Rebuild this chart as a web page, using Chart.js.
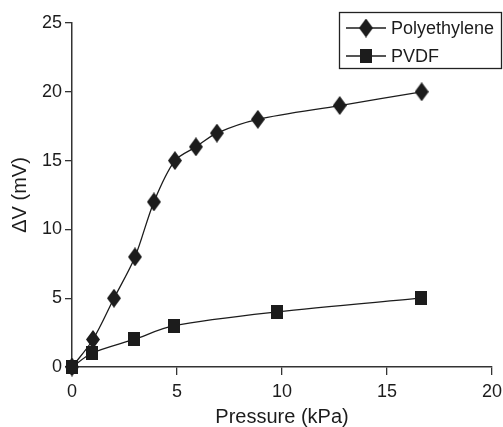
<!DOCTYPE html>
<html>
<head>
<meta charset="utf-8">
<script src="https://cdn.jsdelivr.net/npm/chart.js@4.4.1/dist/chart.umd.min.js"></script>
<style>
  html, body { margin: 0; padding: 0; background: #fff; }
  #wrap { width: 503px; height: 427px; position: relative; }
</style>
</head>
<body>
<div id="wrap"><canvas id="c" width="503" height="427"></canvas></div>
<script>
// ---- data ----
const peX = [0, 1, 2, 3, 3.9, 4.9, 5.9, 6.9, 8.85, 12.75, 16.65];
const peY = [0, 2, 5, 8, 12, 15, 16, 17, 18, 19, 20];
const pvX = [0, 0.95, 2.95, 4.85, 9.75, 16.6];
const pvY = [0, 1, 2, 3, 4, 5];
const xTicks = [0, 5, 10, 15, 20];
const yTicks = [0, 5, 10, 15, 20, 25];
const seriesNames = ['Polyethylene', 'PVDF'];

const INK = '#1c1c1c';

function makeDiamond(w, h) {
  const c = document.createElement('canvas');
  c.width = w; c.height = h;
  const g = c.getContext('2d');
  g.fillStyle = INK;
  g.beginPath();
  g.moveTo(w / 2, 0); g.lineTo(w, h / 2); g.lineTo(w / 2, h); g.lineTo(0, h / 2);
  g.closePath(); g.fill();
  return c;
}
function makeRect(w, h) {
  const c = document.createElement('canvas');
  c.width = w; c.height = h;
  const g = c.getContext('2d');
  g.fillStyle = INK;
  g.fillRect(0, 0, w, h);
  return c;
}
const diamond = makeDiamond(14, 19);
const square = makeRect(12, 14);
const styles = [diamond, square];

const toPts = (xs, ys) => xs.map((x, i) => ({ x: x, y: ys[i] }));

const legendPlugin = {
  id: 'boxLegend',
  afterDraw(chart) {
    const ctx = chart.ctx;
    ctx.save();
    ctx.strokeStyle = '#222';
    ctx.lineWidth = 1.3;
    ctx.strokeRect(339.5, 12.5, 162, 56);
    const rows = [28, 56];
    ctx.font = '18px "Liberation Sans", Arial, sans-serif';
    ctx.textBaseline = 'middle';
    ctx.fillStyle = INK;
    rows.forEach((y, i) => {
      ctx.beginPath();
      ctx.strokeStyle = INK;
      ctx.lineWidth = 1.3;
      ctx.moveTo(346, y); ctx.lineTo(386, y);
      ctx.stroke();
      const s = styles[i];
      ctx.drawImage(s, 366 - s.width / 2, y - s.height / 2);
      ctx.fillText(seriesNames[i], 391, y + 1);
    });
    ctx.restore();
  }
};

const tickFont = { family: '"Liberation Sans", Arial, sans-serif', size: 18 };
const xTitleFont = { family: '"Liberation Sans", Arial, sans-serif', size: 20, lineHeight: 1.0 };
const yTitleFont = { family: '"Liberation Sans", Arial, sans-serif', size: 20 };

new Chart(document.getElementById('c'), {
  type: 'scatter',
  data: {
    datasets: [
      {
        label: seriesNames[0],
        data: toPts(peX, peY),
        showLine: true,
        borderColor: INK,
        borderWidth: 1.3,
        tension: 0.3,
        pointStyle: diamond,
        clip: false
      },
      {
        label: seriesNames[1],
        data: toPts(pvX, pvY),
        showLine: true,
        borderColor: INK,
        borderWidth: 1.3,
        tension: 0.3,
        pointStyle: square,
        clip: false
      }
    ]
  },
  options: {
    responsive: false,
    animation: false,
    devicePixelRatio: 1,
    layout: { padding: { top: 23, right: 11, left: 0, bottom: 0 } },
    plugins: { legend: { display: false }, tooltip: { enabled: false } },
    scales: {
      x: {
        type: 'linear',
        min: 0, max: 20,
        afterBuildTicks(s) { s.ticks = xTicks.map(v => ({ value: v })); },
        afterFit(s) { s.height = 60; s.paddingLeft = 0; s.paddingRight = 0; },
        ticks: { font: tickFont, color: INK, padding: 6, maxRotation: 0 },
        grid: { drawOnChartArea: false, drawTicks: true, tickLength: 8, color: '#333', lineWidth: 1.3 },
        border: { display: true, color: '#333', width: 1.5 },
        title: { display: true, text: 'Pressure (kPa)', font: xTitleFont, color: INK, padding: { top: 0, bottom: 0 } }
      },
      y: {
        type: 'linear',
        min: 0, max: 25,
        afterBuildTicks(s) { s.ticks = yTicks.map(v => ({ value: v })); },
        afterFit(s) { s.width = 72; s.paddingTop = 0; s.paddingBottom = 0; },
        ticks: { font: tickFont, color: INK, padding: 3 },
        grid: { drawOnChartArea: false, drawTicks: true, tickLength: 7, color: '#333', lineWidth: 1.3 },
        border: { display: true, color: '#333', width: 1.5 },
        title: { display: true, text: 'ΔV (mV)', font: yTitleFont, color: INK, padding: { top: 8, bottom: 0 } }
      }
    }
  },
  plugins: [legendPlugin]
});
</script>
</body>
</html>
